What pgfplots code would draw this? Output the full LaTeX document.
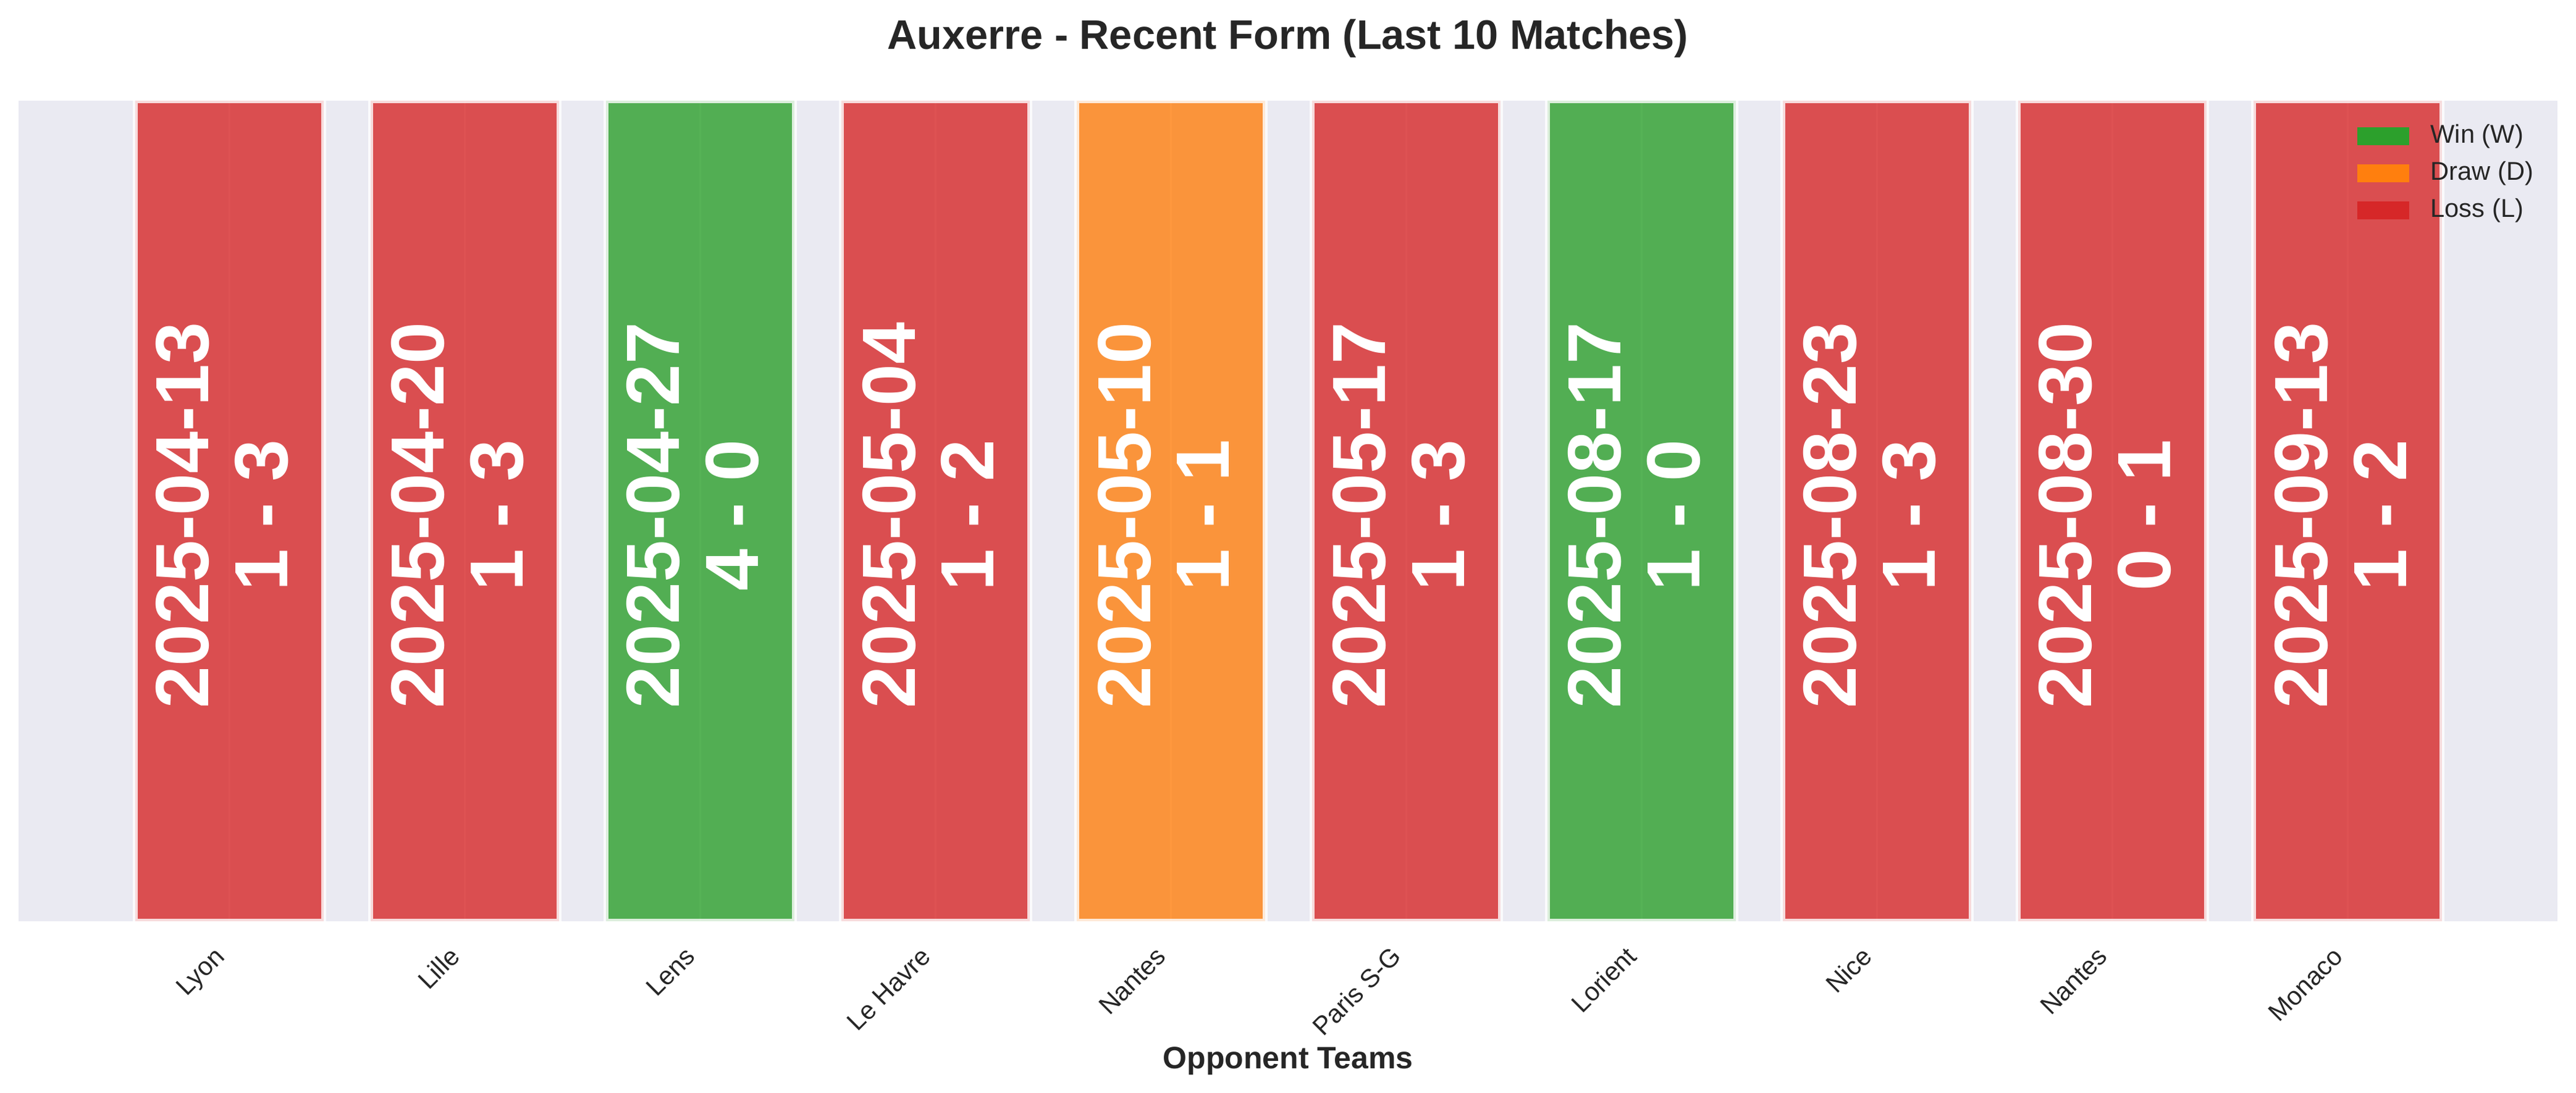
\documentclass[border=0pt]{standalone}
\usepackage{fontspec}
\setmainfont{Liberation Sans}
\usepackage{pgfplots}
\pgfplotsset{compat=1.18}
\definecolor{bgc}{HTML}{EAEAF2}
\definecolor{winc}{HTML}{2CA02C}
\definecolor{drawc}{HTML}{FF7F0E}
\definecolor{lossc}{HTML}{D62728}
\definecolor{txt}{HTML}{262626}
\pgfplotsset{
  res/.style={bar shift=0pt, draw=white, line width=2pt,
    fill opacity=0.8, draw opacity=0.8,
    legend image code/.code={\fill[##1, draw=none, fill opacity=1] (0pt,-3.5pt) rectangle (20.2pt,3.5pt);}},
}
\tikzset{lbl/.style={xshift=-2.9pt, yshift=-1.7pt, rotate=90, text=white, align=center, inner sep=0pt,
  font=\bfseries\fontsize{29.3}{30.7}\selectfont}}

\begin{document}
\begin{tikzpicture}
\begin{axis}[name=ax, at={(0,0)}, anchor=south west,
    width=986.4pt, height=318.7pt, scale only axis,
    xmin=-0.896, xmax=9.891, ymin=0, ymax=1,
    ytick=\empty,
    xtick={0,...,9},
    xticklabels={Lyon,Lille,Lens,Le Havre,Nantes,Paris S-G,Lorient,Nice,Nantes,Monaco},
    major tick length=0pt,
    xmajorgrids, grid style={white, line width=0.8pt},
    axis background/.style={fill=bgc},
    axis line style={draw=none},
    xticklabel style={font=\fontsize{10}{12}\selectfont, text=txt, inner sep=0pt,
      text height=7.3pt, text depth=2.1pt, xshift=-6.6pt, yshift=-9pt, rotate=45, anchor=north east},
    title={Auxerre - Recent Form (Last 10 Matches)},
    title style={at={(axis description cs:0.5,1)}, anchor=base, yshift=13.9pt,
      font=\bfseries\fontsize{16}{19}\selectfont, text=txt, inner sep=0pt},
    xlabel={Opponent Teams},
    xlabel style={at={(axis description cs:0.5,0)}, anchor=base, yshift=-57.4pt,
      font=\bfseries\fontsize{12}{14}\selectfont, text=txt, inner sep=0pt},
    ybar, bar width=0.8,
    legend cell align=left,
    legend style={draw=none, fill=none, at={(0.99077,0.9727)}, anchor=north east,
      inner sep=0pt, row sep=4.4pt, column sep=8.2pt,
      font=\fontsize{10}{12}\selectfont, text=txt,
      nodes={inner sep=0pt, text height=7.5pt, text depth=2.5pt}},
  ]
  % W / D / L, one bar per match, full height
  \addplot[res, fill=winc] coordinates {(2,1) (6,1)};
  \addplot[res, fill=drawc] coordinates {(4,1)};
  \addplot[res, fill=lossc] coordinates {(0,1) (1,1) (3,1) (5,1) (7,1) (8,1) (9,1)};
  \legend{Win (W), Draw (D), Loss (L)}

  \node[lbl] at (axis cs:0,0.5) {2025-04-13\\1 - 3};
  \node[lbl] at (axis cs:1,0.5) {2025-04-20\\1 - 3};
  \node[lbl] at (axis cs:2,0.5) {2025-04-27\\4 - 0};
  \node[lbl] at (axis cs:3,0.5) {2025-05-04\\1 - 2};
  \node[lbl] at (axis cs:4,0.5) {2025-05-10\\1 - 1};
  \node[lbl] at (axis cs:5,0.5) {2025-05-17\\1 - 3};
  \node[lbl] at (axis cs:6,0.5) {2025-08-17\\1 - 0};
  \node[lbl] at (axis cs:7,0.5) {2025-08-23\\1 - 3};
  \node[lbl] at (axis cs:8,0.5) {2025-08-30\\0 - 1};
  \node[lbl] at (axis cs:9,0.5) {2025-09-13\\1 - 2};
\end{axis}
\pgfresetboundingbox
\path[use as bounding box] ([xshift=-7.2pt,yshift=-66.7pt]ax.south west)
  rectangle ([xshift=7.2pt,yshift=39.1pt]ax.north east);
\end{tikzpicture}
\end{document}
